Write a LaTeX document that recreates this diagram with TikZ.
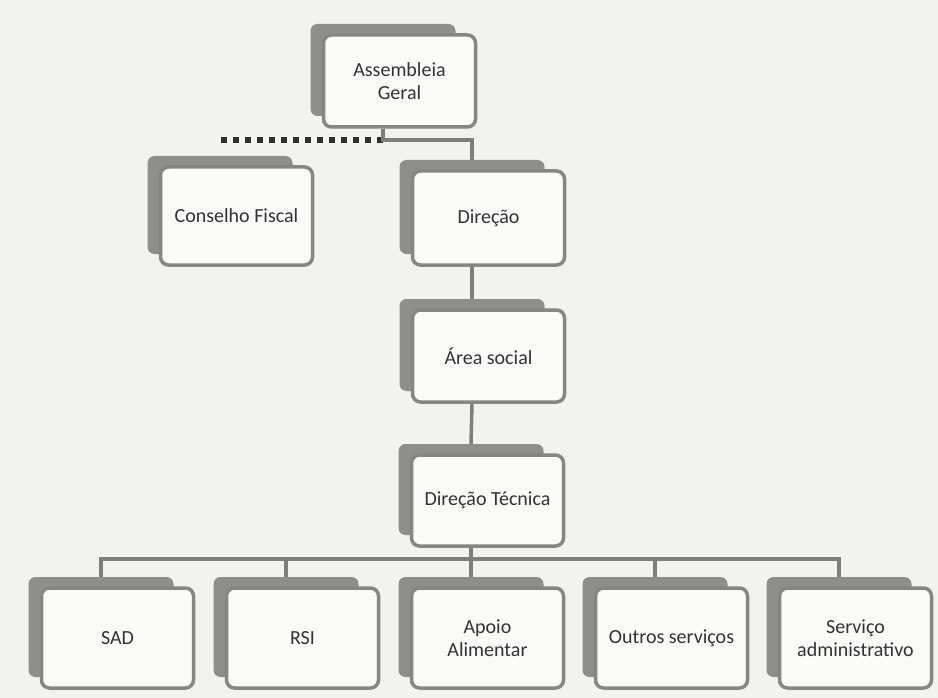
\documentclass[tikz,border=0pt]{standalone}
\usepackage{fontspec}
\setmainfont{Carlito}
\definecolor{bg}{HTML}{F2F2EF}
\definecolor{shad}{HTML}{8E8E8C}
\definecolor{frame}{HTML}{868684}
\definecolor{face}{HTML}{FAFAF8}
\definecolor{txt}{HTML}{333333}
\definecolor{conn}{HTML}{7E7E7C}
\definecolor{dots}{HTML}{2E2E2E}
\tikzset{
  shadowcard/.style={fill=shad, draw=none, rounded corners=7pt, minimum width=145pt, inner sep=0pt},
  frontcard/.style={fill=face, draw=frame, line width=3.5pt, rounded corners=8pt, minimum width=152pt, inner sep=0pt, align=center, text=txt, font=\fontsize{20}{23}\selectfont},
  link/.style={draw=conn, line width=3.5pt},
  dotlink/.style={draw=dots, line width=6pt, dash pattern=on 6pt off 6pt},
}
% name, shadow centre x, front top, front bottom, text
\newcommand\orgcard[5]{%
  \pgfmathsetmacro\orgh{#4-#3}%
  \node[shadowcard, minimum height=\orgh pt] (#1-s) at (#2, {(#3+#4)/2-11}) {};
  \node[frontcard, minimum height=\orgh pt] (#1) at ({#2+16.5}, {(#3+#4)/2}) {#5};
}
\begin{document}
\begin{tikzpicture}[x=1pt,y=-1pt]
  \fill[bg] (0,0) rectangle (938,698);
  \useasboundingbox (0,0) rectangle (938,698);

  \orgcard{ag}{383}{35}{127}{Assembleia\\Geral}
  \orgcard{cf}{220}{167}{265}{Conselho Fiscal}
  \orgcard{dir}{472}{171}{265}{Direção}
  \orgcard{as}{472}{310}{402}{Área social}
  \orgcard{dt}{471}{455}{546}{Direção Técnica}
  \orgcard{b1}{101}{588}{688}{SAD}
  \orgcard{b2}{286}{588}{688}{RSI}
  \orgcard{b3}{471}{588}{688}{Apoio\\Alimentar}
  \orgcard{b4}{655}{588}{688}{Outros serviços}
  \orgcard{b5}{839}{588}{688}{Serviço\\administrativo}

  \coordinate (j1) at (383,140);
  \coordinate (bar) at (471,559);

  \draw[dotlink] (j1) -- (cf-s.center |- j1);
  \draw[link] (ag-s.center |- ag.south) -- (j1) -| (dir-s.north);
  \draw[link] (dir-s.center |- dir.south) -- (as-s.north);
  \draw[link] (as-s.center |- as.south) -- (dt-s.north);
  \draw[link] (dt-s.center |- dt.south) -- (b3-s.north);
  \draw[link] (b1-s.north) -- (b1-s.north |- bar) -- (b5-s.north |- bar) -- (b5-s.north);
  \draw[link] (b2-s.north |- bar) -- (b2-s.north);
  \draw[link] (b4-s.north |- bar) -- (b4-s.north);
\end{tikzpicture}
\end{document}
